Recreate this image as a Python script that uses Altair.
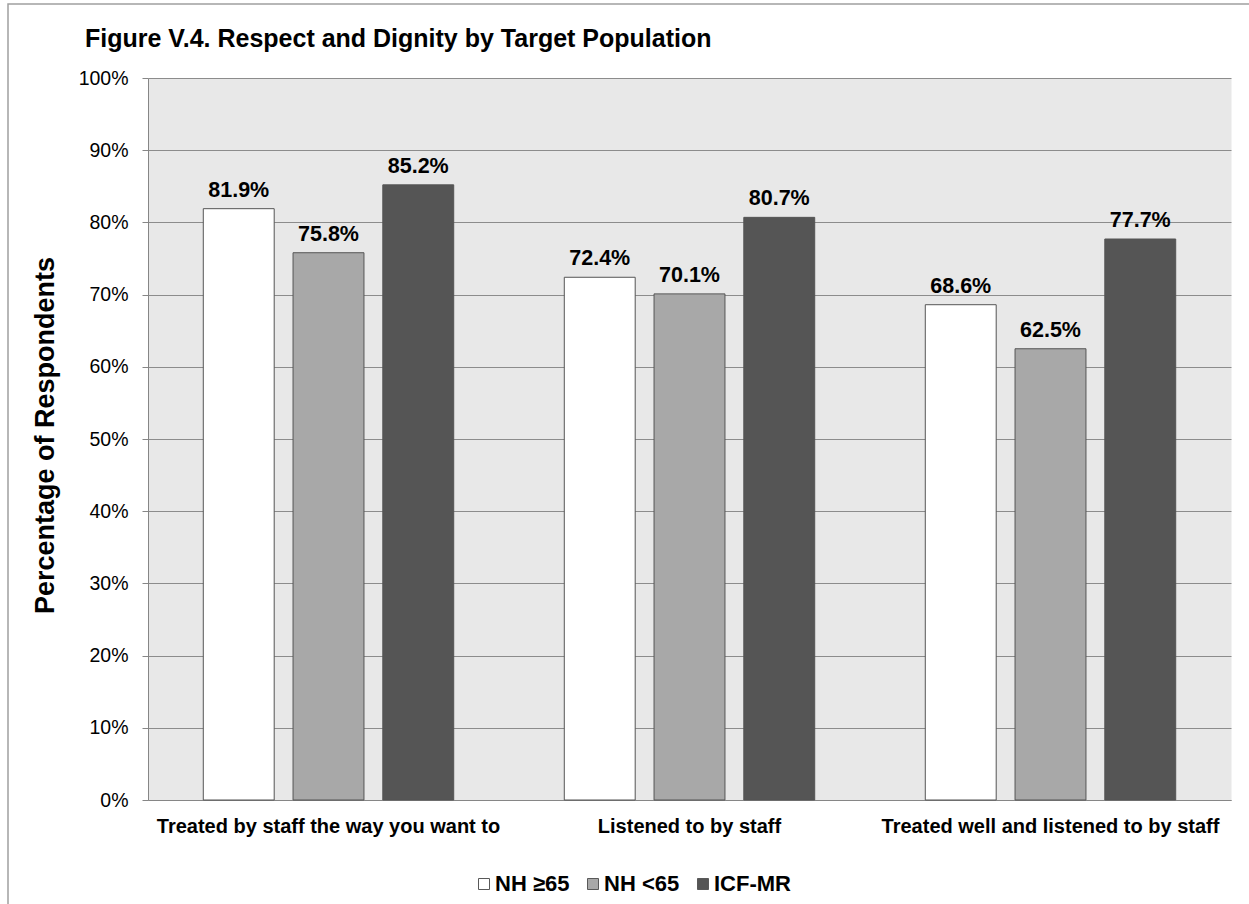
import altair as alt
import pandas as pd

# Survey results, percent of respondents
categories = [
    "Treated by staff the way you want to",
    "Listened to by staff",
    "Treated well and listened to by staff",
]
groups = ["NH ≥65", "NH <65", "ICF-MR"]
nh_65_plus = [81.9, 72.4, 68.6]
nh_under_65 = [75.8, 70.1, 62.5]
icf_mr = [85.2, 80.7, 77.7]
y_ticks = [0, 10, 20, 30, 40, 50, 60, 70, 80, 90, 100]

series = {"NH ≥65": nh_65_plus, "NH <65": nh_under_65, "ICF-MR": icf_mr}
rows = []
for g in groups:
    for c, v in zip(categories, series[g]):
        rows.append({"category": c, "group": g, "value": v})
df = pd.DataFrame(rows)

FONT = "Liberation Sans"
W, H = 1083, 722
PAD_L, PAD_T = 148, 78

x_enc = alt.X(
    "category:N",
    sort=categories,
    scale=alt.Scale(paddingInner=0, paddingOuter=0),
    axis=alt.Axis(
        title=None,
        labelAngle=0,
        labelLimit=0,
        labelFont=FONT,
        labelFontSize=20,
        labelFontWeight="bold",
        labelColor="#000000",
        labelPadding=16,
        ticks=False,
        domainColor="#868686",
        grid=False,
    ),
)
xoff_enc = alt.XOffset(
    "group:N", sort=groups, scale=alt.Scale(paddingInner=0.21, paddingOuter=0.616)
)
y_enc = alt.Y(
    "value:Q",
    scale=alt.Scale(domain=[0, 100], nice=False),
    axis=alt.Axis(
        values=y_ticks,
        labelExpr="datum.value + '%'",
        labelFont=FONT,
        labelFontSize=19.5,
        labelColor="#000000",
        labelPadding=14,
        tickSize=6,
        tickColor="#868686",
        domainColor="#868686",
        gridColor="#8c8c8c",
        title="Percentage of Respondents",
        titleFont=FONT,
        titleFontSize=27,
        titleFontWeight="bold",
        titleColor="#000000",
        titleX=-95,
        titleY=H / 2 - 4,
        titleAngle=-90,
        titleAlign="center",
        titleBaseline="alphabetic",
    ),
)

color_enc = alt.Color(
    "group:N",
    sort=groups,
    scale=alt.Scale(domain=groups, range=["#ffffff", "#a8a8a8", "#555555"]),
    legend=alt.Legend(
        title=None,
        orient="none",
        legendX=325,
        legendY=795,
        direction="horizontal",
        symbolType="square",
        symbolSize=121,
        symbolStrokeColor="#595959",
        symbolStrokeWidth=1,
        labelFont=FONT,
        labelFontSize=22,
        labelFontWeight="bold",
        labelColor="#000000",
        labelOffset=0,
        columnPadding=12,
        labelLimit=0,
    ),
)

bars = alt.Chart(df).mark_bar(stroke="#555555", strokeWidth=1).encode(
    x=x_enc, xOffset=xoff_enc, y=y_enc, color=color_enc
)

labels = (
    alt.Chart(df)
    .transform_calculate(label="format(datum.value, '.1f') + '%'")
    .mark_text(
        font=FONT,
        fontSize=21.5,
        fontWeight="bold",
        color="#000000",
        baseline="alphabetic",
        dy=-12,
    )
    .encode(x=x_enc, xOffset=xoff_enc, y=y_enc, text="label:N")
)

# Thin frame around the whole figure
frame = (
    alt.Chart(alt.Data(values=[{"f": 1}]))
    .mark_rect(fill="transparent", stroke="#a0a0a0", strokeWidth=1.5)
    .encode(
        x=alt.value(8 - PAD_L),
        x2=alt.value(1260 - PAD_L),
        y=alt.value(4 - PAD_T),
        y2=alt.value(915 - PAD_T),
    )
)

chart = (
    alt.layer(bars, labels, frame)
    .properties(
        width=W,
        height=H,
        title=alt.Title(
            "Figure V.4. Respect and Dignity by Target Population",
            anchor="start",
            frame="group",
            dx=85 - PAD_L,
            dy=69,
            offset=0,
            font=FONT,
            fontSize=25,
            fontWeight="bold",
            color="#000000",
            baseline="alphabetic",
        ),
        autosize=alt.AutoSizeParams(type="none"),
        padding={"left": PAD_L, "top": PAD_T, "right": 1249 - PAD_L - W, "bottom": 904 - PAD_T - H},
        background="#ffffff",
    )
    .configure_view(fill="#e8e8e8", stroke="transparent")
)

chart.save("out.html", embed_options={"renderer": "svg", "actions": False})
